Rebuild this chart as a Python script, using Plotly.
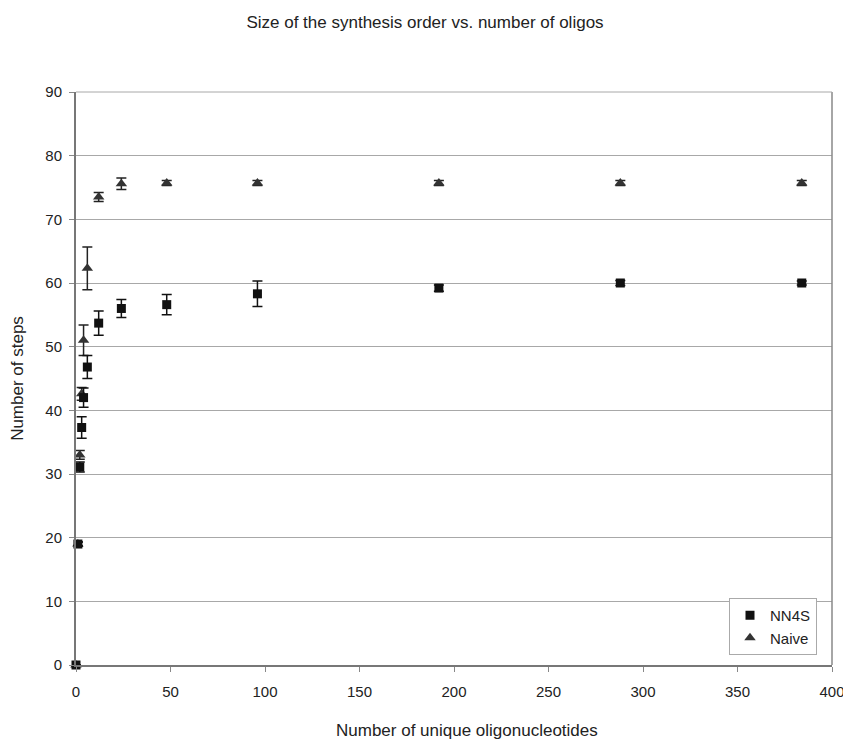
import plotly.graph_objects as go

# Data
oligos = [0, 1, 2, 3, 4, 6, 12, 24, 48, 96, 192, 288, 384]
nn4s_steps = [0, 19, 31.1, 37.3, 42.0, 46.8, 53.7, 56.0, 56.6, 58.3, 59.2, 60.0, 60.0]
nn4s_err = [0, 0.3, 0.8, 1.7, 1.5, 1.8, 1.9, 1.4, 1.6, 2.0, 0.5, 0.4, 0.3]
naive_steps = [0, 19, 33.0, 42.6, 51.0, 62.3, 73.5, 75.6, 75.7, 75.7, 75.7, 75.7, 75.7]
naive_err = [0, 0.3, 0.7, 1.0, 2.4, 3.35, 0.7, 0.9, 0.4, 0.4, 0.4, 0.4, 0.4]

title_text = "Size of the synthesis order vs. number of oligos"
x_title = "Number of unique oligonucleotides"
y_title = "Number of steps"
x_ticks = [0, 50, 100, 150, 200, 250, 300, 350, 400]
y_ticks = [0, 10, 20, 30, 40, 50, 60, 70, 80, 90]

FONT = "Liberation Sans, Arial, sans-serif"
TXT = "#222222"

W, H = 843, 732          # page body has an 8px margin
L, R, T, B = 68, 19, 84, 75
PW, PH = W - L - R, H - T - B

fig = go.Figure()

fig.add_trace(go.Scatter(
    x=oligos, y=naive_steps, mode="markers", name="Naive", legendrank=2,
    marker=dict(symbol="triangle-up", size=10, color="#333333"),
    error_y=dict(type="data", array=naive_err, visible=True,
                 color="#222222", thickness=1.5, width=5),
    cliponaxis=False,
))
fig.add_trace(go.Scatter(
    x=oligos, y=nn4s_steps, mode="markers", name="NN4S", legendrank=1,
    marker=dict(symbol="square", size=9, color="#111111"),
    error_y=dict(type="data", array=nn4s_err, visible=True,
                 color="#111111", thickness=1.5, width=5),
    cliponaxis=False,
))

fig.update_layout(
    width=W, height=H,
    paper_bgcolor="white", plot_bgcolor="white",
    margin=dict(l=L, r=R, t=T, b=B, autoexpand=False),
    font=dict(family=FONT, size=15, color=TXT),
    title=dict(text=title_text, xref="container", x=(425 - 8) / W, xanchor="center",
               y=1 - 14 / H, yanchor="middle",
               font=dict(family=FONT, size=17, color=TXT)),
    showlegend=True,
    legend=dict(
        x=(817 - 76) / 756, y=(665 - 655) / 573, xanchor="right", yanchor="bottom",
        bgcolor="white", bordercolor="#aaaaaa", borderwidth=1,
        font=dict(family=FONT, size=15, color=TXT),
        traceorder="normal",
        itemwidth=30,
    ),
    annotations=[dict(
        text=x_title, xref="paper", yref="paper",
        x=(459 - L) / PW, y=-(722 - (H - B)) / PH,
        xanchor="center", yanchor="middle", showarrow=False,
        font=dict(family=FONT, size=17, color=TXT),
    )],
)

fig.update_xaxes(
    range=[0, 400], tickvals=x_ticks, ticks="outside", ticklen=5,
    tickcolor="#888888", showgrid=False, zeroline=False,
    showline=True, linecolor="#777777", linewidth=2,
    ticklabelstandoff=7,
    tickfont=dict(family=FONT, size=15, color=TXT),
)
fig.update_yaxes(
    range=[0, 90], tickvals=y_ticks, ticks="outside", ticklen=5,
    tickcolor="#888888", showgrid=True, gridcolor="#a8a8a8", gridwidth=1,
    zeroline=False, showline=True, linecolor="#777777", linewidth=2,
    ticklabelstandoff=4,
    tickfont=dict(family=FONT, size=15, color=TXT),
    title=dict(text=y_title, font=dict(family=FONT, size=17, color=TXT), standoff=17),
)

# right and top border of plot area
fig.add_shape(type="line", xref="paper", yref="paper", x0=1, x1=1, y0=0, y1=1,
              line=dict(color="#888888", width=1.5))
fig.add_shape(type="line", xref="paper", yref="paper", x0=0, x1=1, y0=1, y1=1,
              line=dict(color="#a8a8a8", width=1))

fig.write_html("out.html")
